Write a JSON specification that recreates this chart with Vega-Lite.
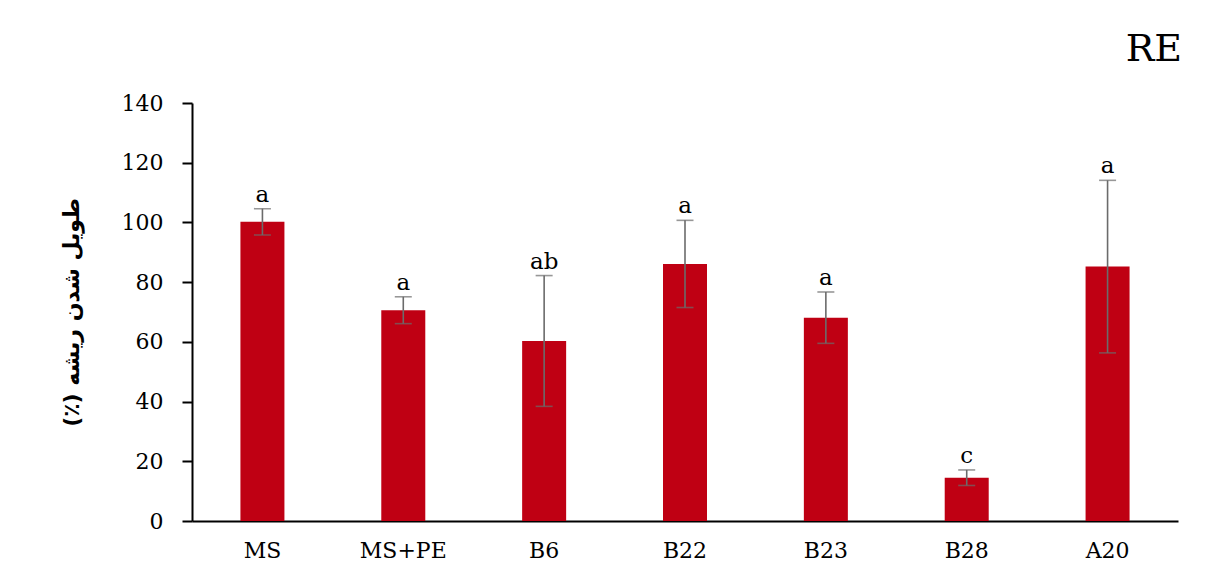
{
  "$schema": "https://vega.github.io/schema/vega-lite/v6.json",
  "autosize": {"type": "none"},
  "width": 986,
  "height": 418,
  "padding": {"left": 192, "top": 103, "right": 32, "bottom": 58},
  "background": "white",
  "config": {"view": {"stroke": null}},
  "title": {
    "text": "RE",
    "anchor": "end",
    "frame": "group",
    "font": "DejaVu Serif",
    "fontSize": 38,
    "fontWeight": "normal",
    "color": "#000000",
    "offset": 23,
    "dx": 4
  },
  "data": {
    "values": [
      {"group": "MS", "mean": 100.2, "err": 4.4, "letter": "a"},
      {"group": "MS+PE", "mean": 70.6, "err": 4.5, "letter": "a"},
      {"group": "B6", "mean": 60.3, "err": 21.9, "letter": "ab"},
      {"group": "B22", "mean": 86.1, "err": 14.6, "letter": "a"},
      {"group": "B23", "mean": 68.1, "err": 8.6, "letter": "a"},
      {"group": "B28", "mean": 14.5, "err": 2.6, "letter": "c"},
      {"group": "A20", "mean": 85.2, "err": 28.9, "letter": "a"}
    ]
  },
  "transform": [
    {"calculate": "datum.mean - datum.err", "as": "low"},
    {"calculate": "datum.mean + datum.err", "as": "high"}
  ],
  "encoding": {
    "x": {
      "field": "group",
      "type": "nominal",
      "sort": null,
      "scale": {"paddingInner": 0, "paddingOuter": 0},
      "axis": {
        "title": null,
        "labelAngle": 0,
        "labelFont": "DejaVu Serif",
        "labelFontSize": 22,
        "labelColor": "#000000",
        "labelPadding": 19,
        "ticks": false,
        "domainColor": "#000000",
        "domainWidth": 2
      }
    }
  },
  "layer": [
    {
      "mark": {"type": "bar", "size": 44, "color": "#BF0013"},
      "encoding": {
        "y": {
          "field": "mean",
          "type": "quantitative",
          "scale": {"domain": [0, 140], "nice": false},
          "axis": {
            "values": [0, 20, 40, 60, 80, 100, 120, 140],
            "grid": false,
            "title": "(٪) طویل شدن ریشه",
            "titleFont": "DejaVu Sans",
            "titleFontSize": 22,
            "titleFontWeight": "bold",
            "titleColor": "#000000",
            "titlePadding": 38,
            "labelFont": "DejaVu Serif",
            "labelFontSize": 22,
            "labelColor": "#000000",
            "labelPadding": 19,
            "tickSize": 10,
            "tickWidth": 2,
            "tickColor": "#000000",
            "domainColor": "#000000",
            "domainWidth": 2
          }
        }
      }
    },
    {
      "mark": {"type": "rule", "color": "#6b6b6b", "strokeWidth": 1.6},
      "encoding": {
        "y": {"field": "low", "type": "quantitative"},
        "y2": {"field": "high"}
      }
    },
    {
      "mark": {"type": "tick", "color": "#6b6b6b", "thickness": 1.6, "size": 17, "orient": "horizontal"},
      "encoding": {"y": {"field": "low", "type": "quantitative"}}
    },
    {
      "mark": {"type": "tick", "color": "#6b6b6b", "thickness": 1.6, "size": 17, "orient": "horizontal"},
      "encoding": {"y": {"field": "high", "type": "quantitative"}}
    },
    {
      "mark": {"type": "text", "font": "DejaVu Serif", "fontSize": 23, "color": "#000000", "baseline": "alphabetic", "dy": -7},
      "encoding": {
        "y": {"field": "high", "type": "quantitative"},
        "text": {"field": "letter"}
      }
    }
  ]
}
